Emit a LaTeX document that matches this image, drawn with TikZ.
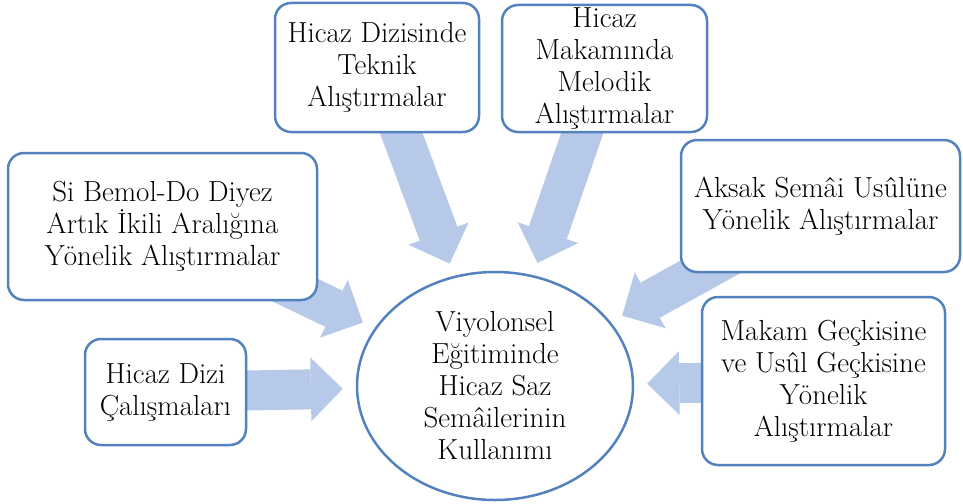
\documentclass[tikz,border=0pt]{standalone}
\usepackage{fontspec}
\usetikzlibrary{arrows.meta,shapes.geometric}

\definecolor{boxline}{RGB}{84,130,190}
\definecolor{arrowfill}{RGB}{182,201,232}

\pgfdeclarelayer{back}
\pgfsetlayers{back,main}

\tikzset{
  topic/.style={draw=boxline, line width=2.5pt, rounded corners=16pt, fill=white,
    align=center, inner sep=0pt},
  core/.style={ellipse, draw=boxline, line width=2.5pt, fill=white, align=center,
    inner sep=0pt, minimum width=276pt, minimum height=228pt},
  flow/.style={draw=arrowfill, line width=40pt, shorten >=13pt,
    -{Triangle[width=64pt,length=32pt,line width=0pt]}}
}

\begin{document}
\begin{tikzpicture}[x=1pt,y=-1pt,font=\fontsize{29}{32}\selectfont]
\useasboundingbox (0,0) rectangle (963,503);

% centre
\node[core] (use) at (495,386) {Viyolonsel\\Eğitiminde\\Hicaz Saz\\Semâilerinin\\Kullanımı};

% surrounding topics
\node[topic, minimum width=204pt, minimum height=129pt] (tech) at (377,67.5)
  {Hicaz Dizisinde\\Teknik\\Alıştırmalar};
\node[topic, minimum width=205pt, minimum height=127pt] (melo) at (604.5,68.5)
  {Hicaz\\Makamında\\Melodik\\Alıştırmalar};
\node[topic, minimum width=309pt, minimum height=147pt] (step) at (162.5,226.5)
  {Si Bemol-Do Diyez\\Artık İkili Aralığına\\Yönelik Alıştırmalar};
\node[topic, minimum width=161pt, minimum height=106pt] (scale) at (165.5,392)
  {Hicaz Dizi\\Çalışmaları};
\node[topic, minimum width=279pt, minimum height=132pt] (usul) at (820.5,206)
  {Aksak Semâi Usûlüne\\Yönelik Alıştırmalar};
\node[topic, minimum width=243pt, minimum height=168pt] (geck) at (823.5,381)
  {Makam Geçkisine\\ve Usûl Geçkisine\\Yönelik\\Alıştırmalar};

% block arrows behind the boxes
\begin{pgfonlayer}{back}
\draw[flow] (tech.center) -- (use);
\draw[flow] (melo.center) -- (use);
\draw[flow] (step.center) -- (use);
\draw[flow] (scale.center) -- (use);
\draw[flow] (usul.center) -- (use);
\draw[flow] (geck.center) -- (use);
\end{pgfonlayer}

\end{tikzpicture}
\end{document}
